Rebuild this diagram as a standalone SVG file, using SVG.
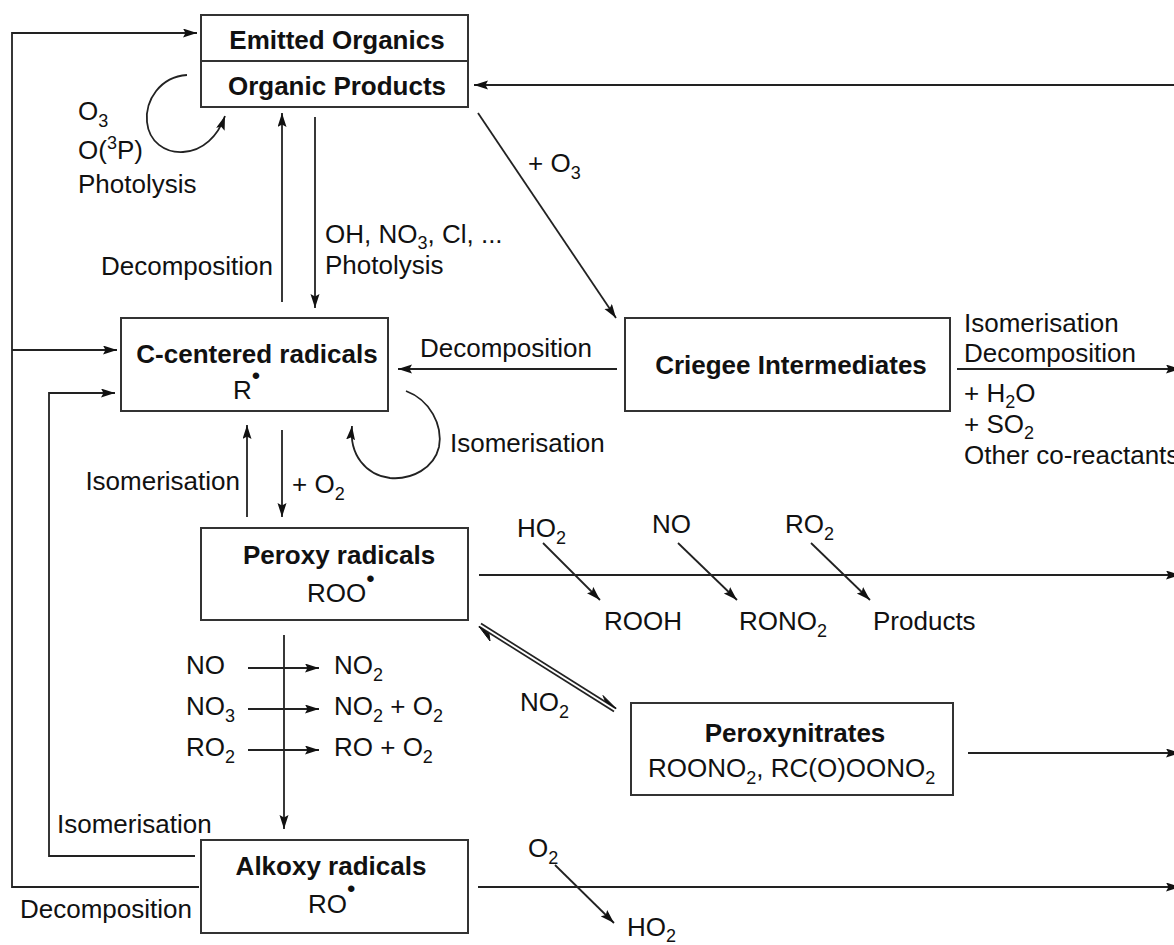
<svg xmlns="http://www.w3.org/2000/svg" width="1174" height="945" viewBox="0 0 1174 945">
<style>
text{font-family:"Liberation Sans",Arial,Helvetica,sans-serif;font-size:26px;fill:#111}
.b{font-weight:bold}
.m{text-anchor:middle}
.e{text-anchor:end}
.s{font-size:18px}
.d{font-size:24px}
.box{fill:#fff;stroke:#333;stroke-width:2}
.ln{fill:none;stroke:#222;stroke-width:1.8}
</style>
<defs>
<marker id="ah" markerUnits="userSpaceOnUse" markerWidth="15" markerHeight="10" refX="14" refY="4.5" orient="auto">
<path d="M0,0 L14,4.5 L0,9 L2.5,4.5 z" fill="#111"/>
</marker>
</defs>
<rect width="1174" height="945" fill="#fff"/>

<g id="connectors">
<polyline class="ln" points="199,887 12,887 12,33 197,33" marker-end="url(#ah)"/>
<line class="ln" x1="12" y1="350" x2="117" y2="350" marker-end="url(#ah)"/>
<polyline class="ln" points="195,856 49,856 49,393 115,393" marker-end="url(#ah)"/>
<line class="ln" x1="1180" y1="85" x2="474" y2="85" marker-end="url(#ah)"/>
<line class="ln" x1="282" y1="302" x2="282" y2="113" marker-end="url(#ah)"/>
<line class="ln" x1="315" y1="117" x2="315" y2="308" marker-end="url(#ah)"/>
<line class="ln" x1="478" y1="113" x2="616" y2="318" marker-end="url(#ah)"/>
<line class="ln" x1="617" y1="369" x2="398" y2="369" marker-end="url(#ah)"/>
<line class="ln" x1="957" y1="369" x2="1180" y2="369" marker-end="url(#ah)"/>
<line class="ln" x1="247" y1="517" x2="247" y2="425" marker-end="url(#ah)"/>
<line class="ln" x1="282" y1="430" x2="282" y2="517" marker-end="url(#ah)"/>
<line class="ln" x1="479" y1="575" x2="1180" y2="575" marker-end="url(#ah)"/>
<line class="ln" x1="543" y1="543" x2="600" y2="600" marker-end="url(#ah)"/>
<line class="ln" x1="678" y1="543" x2="737" y2="600" marker-end="url(#ah)"/>
<line class="ln" x1="811" y1="543" x2="870" y2="600" marker-end="url(#ah)"/>
<line class="ln" x1="284" y1="635" x2="284" y2="829" marker-end="url(#ah)"/>
<line class="ln" x1="248" y1="668" x2="319" y2="668" marker-end="url(#ah)"/>
<line class="ln" x1="248" y1="709" x2="319" y2="709" marker-end="url(#ah)"/>
<line class="ln" x1="248" y1="750" x2="319" y2="750" marker-end="url(#ah)"/>
<path class="ln" d="M481,623.5 L616,708.5"/>
<path d="M616,708.5 L603,695.5 L605.5,701.5 z" fill="#111" stroke="#111" stroke-width="1"/>
<path class="ln" d="M614,711.5 L479,626.5"/>
<path d="M479,626.5 L490,641 L489,634 z" fill="#111" stroke="#111" stroke-width="1"/>
<line class="ln" x1="968" y1="753" x2="1180" y2="753" marker-end="url(#ah)"/>
<line class="ln" x1="478" y1="887" x2="1180" y2="887" marker-end="url(#ah)"/>
<line class="ln" x1="555" y1="865" x2="614" y2="923" marker-end="url(#ah)"/>
<path class="ln" d="M187,75 C160,77 145,100 147,122 C149,142 165,153 183,152 C203,151 218,136 225,116" marker-end="url(#ah)"/>
<path class="ln" d="M406,391 C430,400 443,425 439,447 C434,468 412,480 390,478 C366,475 349,455 352,426" marker-end="url(#ah)"/>
</g>

<g id="organics">
<rect class="box" x="201" y="15" width="267" height="92"/>
<line x1="201" y1="61" x2="468" y2="61" stroke="#333" stroke-width="2"/>
<text class="b m" x="337" y="49">Emitted Organics</text>
<text class="b m" x="337" y="95">Organic Products</text>
</g>

<g id="c-radicals">
<rect class="box" x="121" y="318" width="267" height="93"/>
<text class="b m" x="257" y="363">C-centered radicals</text>
<text x="233" y="399">R<tspan class="d" dy="-15">•</tspan></text>
</g>

<g id="criegee">
<rect class="box" x="625" y="318" width="325" height="93"/>
<text class="b m" x="791" y="374">Criegee Intermediates</text>
</g>

<g id="peroxy">
<rect class="box" x="201" y="528" width="267" height="92"/>
<text class="b m" x="339" y="564">Peroxy radicals</text>
<text x="307" y="602">ROO<tspan class="d" dy="-15">•</tspan></text>
</g>

<g id="peroxynitrates">
<rect class="box" x="631" y="703" width="322" height="92"/>
<text class="b m" x="795" y="742">Peroxynitrates</text>
<text x="648" y="777">ROONO<tspan class="s" dy="7">2</tspan><tspan dy="-7">, RC(O)OONO</tspan><tspan class="s" dy="7">2</tspan></text>
</g>

<g id="alkoxy">
<rect class="box" x="201" y="840" width="267" height="93"/>
<text class="b m" x="331" y="875">Alkoxy radicals</text>
<text x="308" y="913">RO<tspan class="d" dy="-16">•</tspan></text>
</g>

<g id="labels">
<text x="78" y="120">O<tspan class="s" dy="7">3</tspan></text>
<text x="78" y="159">O(<tspan class="s" dy="-10">3</tspan><tspan dy="10">P)</tspan></text>
<text x="78" y="193">Photolysis</text>
<text class="e" x="273" y="275">Decomposition</text>
<text x="325" y="243">OH, NO<tspan class="s" dy="6">3</tspan><tspan dy="-6">, Cl, ...</tspan></text>
<text x="325" y="274">Photolysis</text>
<text x="528" y="172">+ O<tspan class="s" dy="7">3</tspan></text>
<text x="420" y="357">Decomposition</text>
<text x="964" y="332">Isomerisation</text>
<text x="964" y="362">Decomposition</text>
<text x="964" y="402">+ H<tspan class="s" dy="6">2</tspan><tspan dy="-6">O</tspan></text>
<text x="964" y="433">+ SO<tspan class="s" dy="6">2</tspan></text>
<text x="964" y="464">Other co-reactants</text>
<text x="450" y="452">Isomerisation</text>
<text class="e" x="240" y="490">Isomerisation</text>
<text x="292" y="493">+ O<tspan class="s" dy="7">2</tspan></text>
<text x="517" y="537">HO<tspan class="s" dy="7">2</tspan></text>
<text x="652" y="533">NO</text>
<text x="785" y="533">RO<tspan class="s" dy="7">2</tspan></text>
<text x="604" y="630">ROOH</text>
<text x="739" y="630">RONO<tspan class="s" dy="7">2</tspan></text>
<text x="873" y="630">Products</text>
<text x="186" y="674">NO</text>
<text x="334" y="674">NO<tspan class="s" dy="7">2</tspan></text>
<text x="186" y="715">NO<tspan class="s" dy="7">3</tspan></text>
<text x="334" y="715">NO<tspan class="s" dy="7">2</tspan><tspan dy="-7"> + O</tspan><tspan class="s" dy="7">2</tspan></text>
<text x="186" y="756">RO<tspan class="s" dy="7">2</tspan></text>
<text x="334" y="756">RO + O<tspan class="s" dy="7">2</tspan></text>
<text x="520" y="711">NO<tspan class="s" dy="7">2</tspan></text>
<text x="57" y="833">Isomerisation</text>
<text x="20" y="918">Decomposition</text>
<text x="528" y="857">O<tspan class="s" dy="7">2</tspan></text>
<text x="627" y="936">HO<tspan class="s" dy="6">2</tspan></text>
</g>
</svg>
